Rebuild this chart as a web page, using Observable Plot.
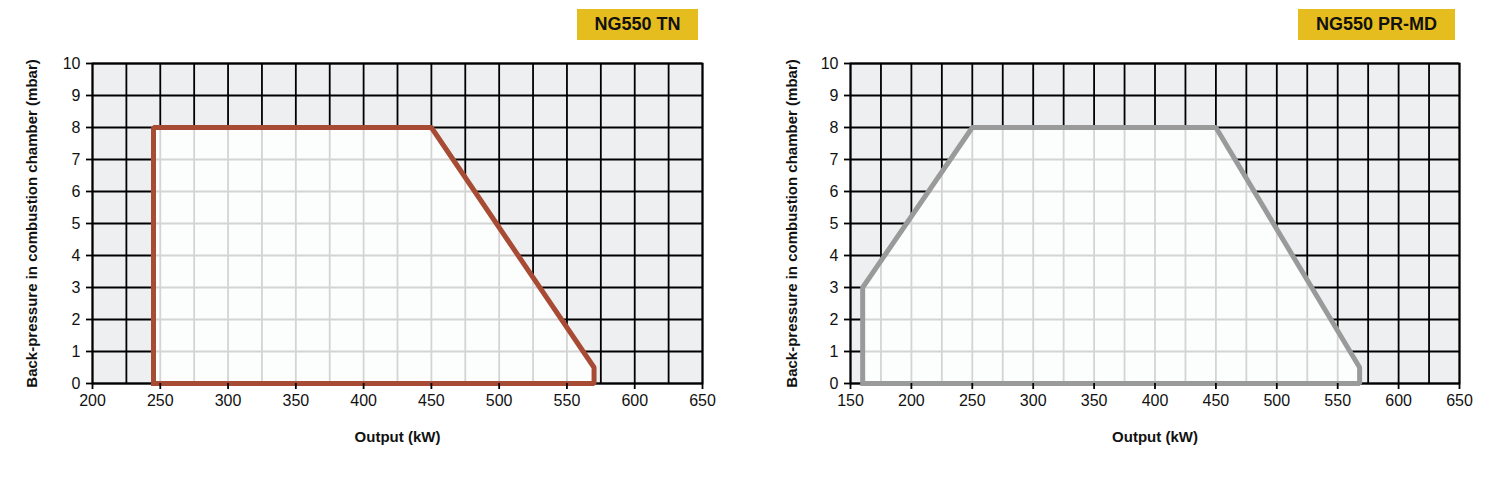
<!DOCTYPE html>
<html>
<head>
<meta charset="utf-8">
<script src="https://cdn.jsdelivr.net/npm/d3@7"></script>
<script src="https://cdn.jsdelivr.net/npm/@observablehq/plot@0.6"></script>
<style>
  html, body { margin: 0; padding: 0; background: #fff; }
  #wrap { position: relative; width: 1492px; height: 479px; overflow: hidden; }
  .panel { position: absolute; top: 0; }
  .badge { position: absolute; background: #e6bd1f; color: #111; font-family: "Liberation Sans Narrow", "Liberation Sans", Arial, sans-serif; font-weight: bold; font-size: 18px; display: flex; align-items: center; justify-content: center; height: 31px; top: 9px; }
</style>
</head>
<body>
<div id="wrap"></div>
<script>
// ---- Data ----
const titleLeft = "NG550 TN";
const titleRight = "NG550 PR-MD";
const yLabel = "Back-pressure in combustion chamber (mbar)";
const xLabel = "Output (kW)";

const xTicksLeft = [200, 250, 300, 350, 400, 450, 500, 550, 600, 650];
const xTicksRight = [150, 200, 250, 300, 350, 400, 450, 500, 550, 600, 650];
const yTicks = [0, 1, 2, 3, 4, 5, 6, 7, 8, 9, 10];
const xGridLeft = [200, 225, 250, 275, 300, 325, 350, 375, 400, 425, 450, 475, 500, 525, 550, 575, 600, 625, 650];
const xGridRight = [150, 175, 200, 225, 250, 275, 300, 325, 350, 375, 400, 425, 450, 475, 500, 525, 550, 575, 600, 625, 650];

// working-field envelope (kW, mbar)
const tnOutput = [245, 245, 450, 570, 570, 245];
const tnPressure = [0, 8, 8, 0.5, 0, 0];
const prOutput = [160, 160, 250, 450, 568, 568, 160];
const prPressure = [0, 3, 8, 8, 0.5, 0, 0];

const FONT = "'Liberation Sans Narrow', 'Liberation Sans', Arial, sans-serif";
const BOLD = "'Liberation Sans', Arial, sans-serif";

function chart({width, marginLeft, marginRight, labelX, xDomain, xTicks, xGrid, px, py, color}) {
  const pts = px.map((x, i) => ({x, y: py[i]}));
  return Plot.plot({
    width, height: 479,
    marginLeft, marginRight, marginTop: 63, marginBottom: 96,
    style: {fontFamily: FONT, fontSize: "16px", color: "#111", background: "transparent"},
    x: {domain: xDomain, axis: null},
    y: {domain: [0, 10], axis: null},
    marks: [
      Plot.frame({fill: "#eeeff1", stroke: null}),
      Plot.gridX({ticks: xGrid, stroke: "#000", strokeOpacity: 1, strokeWidth: 1.8}),
      Plot.gridY({ticks: yTicks, stroke: "#000", strokeOpacity: 1, strokeWidth: 1.8}),
      Plot.frame({stroke: "#000", strokeWidth: 1.8}),
      Plot.line(pts, {x: "x", y: "y", fill: "white", fillOpacity: 0.83, stroke: color, strokeWidth: 5, strokeLinejoin: "miter", strokeLinecap: "square", curve: "linear"}),
      Plot.axisX({ticks: xTicks, tickSize: 6, tickPadding: 5, stroke: "#000", strokeWidth: 1.8, label: null, fontSize: 16}),
      Plot.axisY({ticks: yTicks, tickSize: 6, tickPadding: 6, stroke: "#000", strokeWidth: 1.8, label: null, fontSize: 16}),
      Plot.text([yLabel], {frameAnchor: "left", textAnchor: "middle", rotate: -90, dx: -(marginLeft - labelX), fontFamily: BOLD, fontWeight: "bold", fontSize: 15, fill: "#111"}),
      Plot.text([xLabel], {frameAnchor: "bottom", textAnchor: "middle", dy: 58, fontFamily: BOLD, fontWeight: "bold", fontSize: 15, fill: "#111"})
    ]
  });
}

const wrap = document.getElementById("wrap");

const left = chart({width: 740, marginLeft: 92, marginRight: 38, labelX: 32, xDomain: [200, 650], xTicks: xTicksLeft, xGrid: xGridLeft, px: tnOutput, py: tnPressure, color: "#a84b34"});
left.classList.add("panel"); left.style.left = "0px";
wrap.appendChild(left);

const right = chart({width: 752, marginLeft: 110, marginRight: 33, labelX: 52, xDomain: [150, 650], xTicks: xTicksRight, xGrid: xGridRight, px: prOutput, py: prPressure, color: "#9a9a9a"});
right.classList.add("panel"); right.style.left = "740px";
wrap.appendChild(right);

const b1 = document.createElement("div");
b1.className = "badge"; b1.textContent = titleLeft;
b1.style.left = "577px"; b1.style.width = "121px";
wrap.appendChild(b1);

const b2 = document.createElement("div");
b2.className = "badge"; b2.textContent = titleRight;
b2.style.left = "1298px"; b2.style.width = "157px";
wrap.appendChild(b2);
</script>
</body>
</html>
